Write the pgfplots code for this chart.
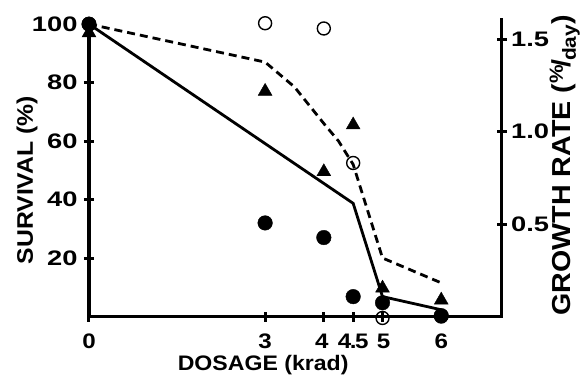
\documentclass[border=0pt]{standalone}
\usepackage{fontspec}
\setmainfont{Liberation Sans}[FakeStretch=1.1]
\newfontfamily\tickfont{Liberation Sans}[FakeStretch=1.3]
\newfontfamily\xtickfont{Liberation Sans}[FakeStretch=1.15]
\usepackage{pgfplots}
\pgfplotsset{compat=1.18}
\pgfplotsset{
  common/.style={
    scale only axis, width=412.7bp, height=296.5bp,
    xmin=0, xmax=7.03,
    clip=false,
    tick align=inside, major tick length=10bp,
    every tick/.style={black, line width=3bp},
    tick label style={font=\tickfont\bfseries\fontsize{21bp}{21bp}\selectfont},
    /pgf/number format/assume math mode=true,
  },
  lines/.style={axis line style={-, line width=3.5bp, line cap=rect}},
}
\begin{document}
\begin{tikzpicture}
\begin{axis}[common,
  ymin=0, ymax=101.4,
  axis x line=bottom, axis y line=left, lines,
  xtick={0,3,4,4.5,5,6},
  xticklabels={0,3,4\kern4bp,4\kern-0.07em.\kern-0.07em5,\kern2bp5,6},
  ytick={20,40,60,80,100}, yticklabels={20,40,60,80,100},
  xticklabel style={anchor=base, yshift=-26.5bp,
    font=\xtickfont\bfseries\fontsize{21bp}{21bp}\selectfont},
  yticklabel style={anchor=east, xshift=-3bp},
  xlabel={DOSAGE (krad)},
  xlabel style={at={(axis description cs:0.422,0)}, anchor=base, yshift=-53.5bp,
    font=\bfseries\fontsize{21bp}{21bp}\selectfont},
  ylabel={SURVIVAL (\%)},
  ylabel style={at={(axis description cs:0,0.46)}, anchor=center, yshift=62bp,
    font=\bfseries\fontsize{22.5bp}{22.5bp}\selectfont},
]
% dashed line
\addplot[black, line width=2.8bp, dash pattern=on 8bp off 5bp] coordinates {
  (0,100) (3,87) (3.5,78.5) (4,66) (4.25,60) (4.5,52) (5,20) (6,11.5)};
% solid line
\addplot[black, line width=2.8bp] coordinates {
  (0,100) (4.5,38.7) (5,6.8) (6,2.3)};
% open circles
\addplot[only marks, mark=o, mark size=6.5bp, mark options={line width=1.4bp, black}] coordinates {
  (0,100) (3,100.3) (4,98.5) (4.5,52.5) (5,-0.5) (6,0)};
% filled circles
\addplot[only marks, mark=*, mark size=7.3bp, black] coordinates {
  (0,100) (3,32) (4,27) (4.5,6.8) (5,4.7) (6,0.3)};
% triangles
\addplot[only marks, mark=triangle*, mark size=8bp, black] coordinates {
  (0,97) (3,77) (4,49.5) (4.5,65.5) (5,9.7) (6,5.6)};
\end{axis}
\begin{axis}[common,
  ymin=0, ymax=1.603,
  axis x line=none, axis y line=right, lines,
  ytick={0.5,1.0,1.5}, yticklabels={0.5,1.0,1.5},
  yticklabel style={anchor=west, xshift=1bp},
  ylabel={GROWTH RATE (\raisebox{0.3em}{\fontsize{19bp}{19bp}\selectfont\%}\kern-0.08em/\kern-0.05em\raisebox{-0.2em}{\fontsize{19bp}{19bp}\selectfont day})},
  ylabel style={at={(axis description cs:1,0.51)}, anchor=center, yshift=-63bp,
    font=\bfseries\fontsize{26bp}{26bp}\selectfont},
]
\end{axis}
\pgfresetboundingbox
\useasboundingbox (-89bp,-58.5bp) rectangle (496bp,316.5bp);
\end{tikzpicture}
\end{document}
